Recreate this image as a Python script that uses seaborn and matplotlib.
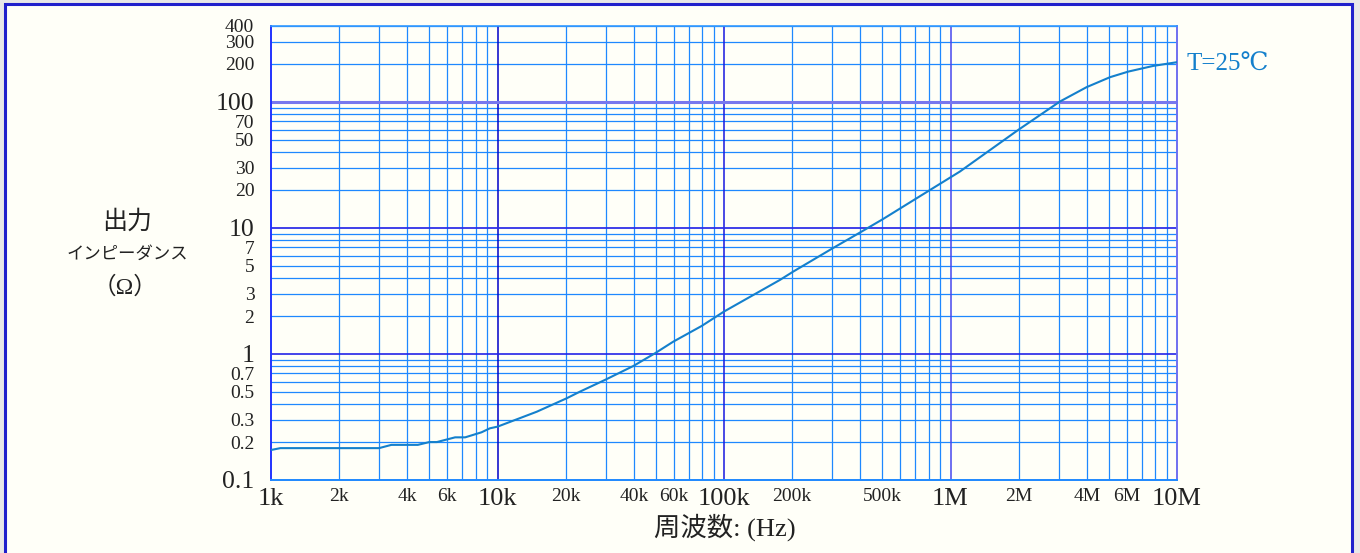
import numpy as np
import pandas as pd
import matplotlib
matplotlib.use("Agg")
import matplotlib.pyplot as plt
import seaborn as sns
from matplotlib.ticker import FixedLocator, NullLocator
from matplotlib.patches import Rectangle

# Output impedance vs. frequency at T = 25 °C
freq_hz = [1000, 1100, 3000, 3400, 4450, 5000, 5400, 6500, 7200, 8500, 9250,
           10000, 14900, 20200, 23100, 29800, 39800, 49600, 59700, 79700,
           100000, 176700, 202000, 302000, 405000, 502000, 812000, 1100000,
           1990000, 3040000, 3990000, 5060000, 6100000, 7860000, 10000000]
impedance_ohm = [0.173, 0.179, 0.179, 0.19, 0.19, 0.20, 0.20, 0.218, 0.218,
                 0.239, 0.257, 0.265, 0.348, 0.445, 0.502, 0.622, 0.803, 1.013,
                 1.252, 1.668, 2.17, 3.87, 4.50, 6.90, 9.35, 11.72, 20.0, 28.0,
                 59.9, 100.6, 130.9, 157, 174, 193, 206.5]

x_tick_values = [1e3, 2e3, 4e3, 6e3, 1e4, 2e4, 4e4, 6e4, 1e5, 2e5, 5e5,
                 1e6, 2e6, 4e6, 6e6, 1e7]
x_tick_labels = ["1k", "2k", "4k", "6k", "10k", "20k", "40k", "60k", "100k",
                 "200k", "500k", "1M", "2M", "4M", "6M", "10M"]
y_tick_values = [0.1, 0.2, 0.3, 0.5, 0.7, 1, 2, 3, 5, 7, 10, 20, 30, 50, 70,
                 100, 200, 300, 400]
y_tick_labels = ["0.1", "0.2", "0.3", "0.5", "0.7", "1", "2", "3", "5", "7",
                 "10", "20", "30", "50", "70", "100", "200", "300", "400"]
x_decades = [1e4, 1e5, 1e6]
y_decades = [1, 10, 100]
curve_label = "T=25℃"

df = pd.DataFrame({"freq": freq_hz, "z": impedance_ohm})

sns.set_theme(style="white")
plt.rcParams["font.family"] = ["Liberation Serif", "DejaVu Serif", "Noto Sans CJK JP"]

W, H = 1360, 553
fig = plt.figure(figsize=(W / 100, H / 100), dpi=100)
fig.patch.set_facecolor("#E8E8E8")
fig.patches.append(Rectangle((5 / W, -0.05), (1352 - 5) / W, 1.05 - 3.5 / H,
                             transform=fig.transFigure, facecolor="#FFFFF8",
                             edgecolor="#2020CC", linewidth=2.2, zorder=-10))

ax = fig.add_axes([271 / W, 1 - 480 / H, (1177 - 271) / W, (480 - 26) / H])
ax.set_facecolor("#FFFFF8")
ax.set_xscale("log")
ax.set_yscale("log")
ax.set_xlim(1e3, 1e7)
ax.set_ylim(0.1, 400)

# minor grid at every 1..9 multiple
grid_c = "#1E88FF"
minor_x = [m * 10 ** e for e in range(3, 7) for m in range(2, 10)]
minor_y = [m * 10 ** e for e in range(-1, 3) for m in range(2, 10) if m * 10 ** e <= 400]
for v in minor_x:
    ax.axvline(v, color=grid_c, lw=0.9, zorder=1)
for v in minor_y:
    ax.axhline(v, color=grid_c, lw=0.9, zorder=1)
for v, c in zip(x_decades, ["#0000C8", "#1818E0", "#4848EE"]):
    ax.axvline(v, color=c, lw=1.1, zorder=1.5)
for v, c, w in zip(y_decades, ["#2424E8", "#3030E8", "#7878EE"], [1.2, 1.3, 2.2]):
    ax.axhline(v, color=c, lw=w, zorder=1.5)

sns.lineplot(data=df, x="freq", y="z", ax=ax, color="#1480CC", lw=1.5, zorder=3)

ax.set_xlabel("")
ax.set_ylabel("")
ax.xaxis.set_major_locator(FixedLocator(x_tick_values))
ax.xaxis.set_minor_locator(NullLocator())
ax.yaxis.set_major_locator(FixedLocator(y_tick_values))
ax.yaxis.set_minor_locator(NullLocator())
ax.set_xticklabels(x_tick_labels)
ax.set_yticklabels(y_tick_labels)
ax.tick_params(axis="both", length=0, colors="#222222")
ax.tick_params(axis="x", pad=6)
ax.tick_params(axis="y", pad=12)
for lab in ax.get_xticklabels():
    big = lab.get_text() in ("1k", "10k", "100k", "1M", "10M")
    lab.set_fontsize(19 if big else 14)
for lab in ax.get_yticklabels():
    big = lab.get_text() in ("0.1", "1", "10", "100")
    lab.set_fontsize(18.5 if big else 14)

for side, c, w in [("left", "#2233FF", 1.4), ("right", "#7070F0", 1.4),
                   ("top", "#3399FF", 1.2), ("bottom", "#1E88FF", 1.4)]:
    ax.spines[side].set_color(c)
    ax.spines[side].set_linewidth(w)
    ax.spines[side].set_visible(True)

ax.annotate(curve_label, xy=(freq_hz[-1], impedance_ohm[-1]), xytext=(7, -2),
            textcoords="offset points", ha="left", va="center",
            fontsize=18, color="#1480CC", annotation_clip=False)

def fx(px):
    return px / W

def fy(py):
    return 1 - py / H

fig.text(fx(127), fy(222), "出力", ha="center", va="center", fontsize=18,
         family=["Noto Sans CJK JP"], color="#222222")
fig.text(fx(127), fy(254), "インピーダンス", ha="center", va="center",
         fontsize=12.5, family=["Noto Sans CJK JP"], color="#222222")
fig.text(fx(125), fy(287), "（Ω）", ha="center", va="center", fontsize=17,
         family=["Liberation Serif", "Noto Sans CJK JP"], color="#222222")
fig.text(fx(725), fy(527), "周波数: (Hz)", ha="center", va="center", fontsize=19,
         family=["Liberation Serif", "Noto Sans CJK JP"], color="#222222")

fig.savefig("out.png", dpi=100, facecolor=fig.get_facecolor())
